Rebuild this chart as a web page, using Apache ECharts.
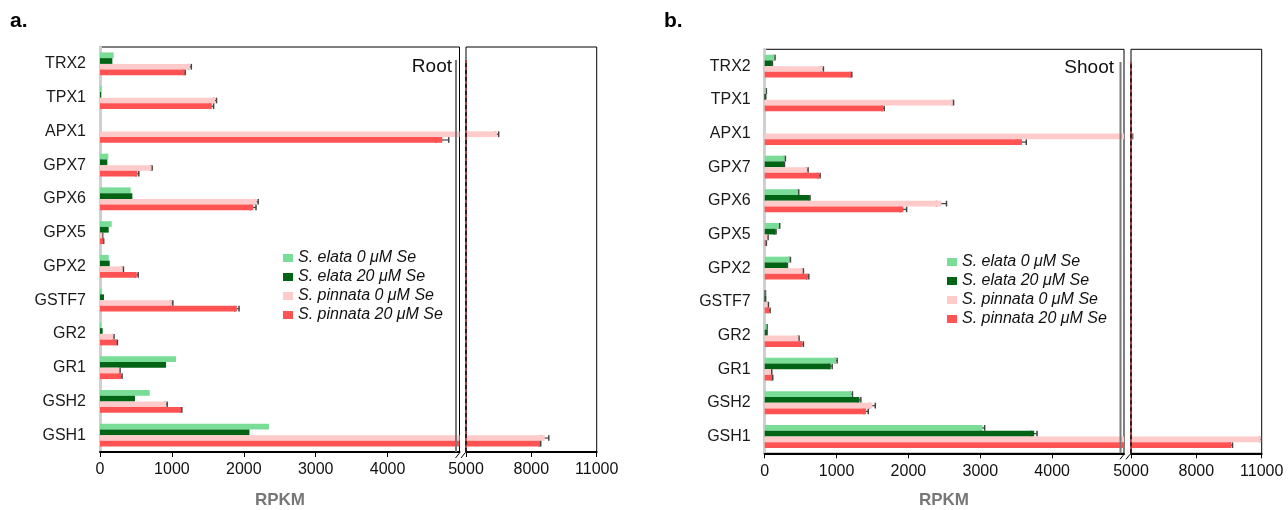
<!DOCTYPE html>
<html>
<head>
<meta charset="utf-8">
<script src="https://cdn.jsdelivr.net/npm/echarts@6/dist/echarts.min.js"></script>
<style>
html,body{margin:0;padding:0;background:#fff;}
#chart{width:1288px;height:510px;}
</style>
</head>
<body>
<div id="chart"></div>
<script>
// ---------- data ----------
const categories = ['TRX2','TPX1','APX1','GPX7','GPX6','GPX5','GPX2','GSTF7','GR2','GR1','GSH2','GSH1'];
const seriesNames = ['S. elata 0 μM Se','S. elata 20 μM Se','S. pinnata 0 μM Se','S. pinnata 20 μM Se'];

// Root (panel a)
const rootElata0     = [190, 20, 0, 116, 427, 163, 121, 24, 18, 1058, 692, 2349];
const rootElata20    = [172, 15, 0, 102, 450, 121, 135, 56, 37, 919, 487, 2079];
const rootPinnata0   = [1250, 1600, 6420, 715, 2180, 32, 316, 998, 185, 269, 919, 8620];
const rootPinnata20  = [1175, 1555, 4760, 520, 2130, 46, 511, 1904, 232, 292, 1128, 8390];
const rootElata0Err    = [0, 0, 0, 0, 0, 0, 0, 0, 0, 0, 0, 0];
const rootElata20Err   = [0, 0, 0, 0, 0, 0, 0, 0, 0, 0, 0, 0];
const rootPinnata0Err  = [20, 20, 80, 10, 20, 5, 10, 15, 10, 10, 15, 180];
const rootPinnata20Err = [10, 25, 90, 20, 40, 5, 20, 30, 10, 15, 10, 40];

// Shoot (panel b)
const shootElata0     = [134, 18, 0, 278, 464, 199, 348, 8, 28, 993, 1206, 3031];
const shootElata20    = [97, 10, 0, 265, 621, 148, 306, 10, 28, 919, 1318, 3750];
const shootPinnata0   = [802, 2618, 5060, 589, 2460, 37, 529, 42, 468, 88, 1499, 10950];
const shootPinnata20  = [1202, 1648, 3580, 756, 1930, 18, 599, 60, 524, 102, 1411, 9600];
const shootElata0Err    = [10, 5, 0, 10, 10, 10, 10, 3, 5, 15, 15, 30];
const shootElata20Err   = [10, 5, 0, 10, 10, 10, 10, 3, 5, 20, 20, 40];
const shootPinnata0Err  = [15, 10, 15, 15, 70, 10, 10, 10, 10, 10, 40, 50];
const shootPinnata20Err = [10, 15, 60, 15, 45, 5, 15, 15, 15, 10, 30, 60];

// axis ticks
const leftTicks = [0, 1000, 2000, 3000, 4000];
const rightTicks = [5000, 8000, 11000];
const breakValue = 5000;
const maxValue = 11000;

// ---------- style ----------
const colors = ['#79dd98', '#006414', '#ffcaca', '#ff5252'];
const FONT = '"Liberation Sans", Arial, sans-serif';
const catGap = 0.32;

const panels = [
  {vals:[rootElata0, rootElata20, rootPinnata0, rootPinnata20],
   errs:[rootElata0Err, rootElata20Err, rootPinnata0Err, rootPinnata20Err]},
  {vals:[shootElata0, shootElata20, shootPinnata0, shootPinnata20],
   errs:[shootElata0Err, shootElata20Err, shootPinnata0Err, shootPinnata20Err]}
];

const grids = [
  {left:100, top:47, width:359.5, height:405},
  {left:466, top:47, width:130.7, height:405},
  {left:764.7, top:49.3, width:359.3, height:404},
  {left:1131, top:49.3, width:130.7, height:404}
];

const xAxes = [], yAxes = [], series = [];
grids.forEach((g, gi) => {
  const isLeft = gi % 2 === 0;
  xAxes.push({
    type:'value', gridIndex:gi,
    min: isLeft ? 0 : breakValue,
    max: isLeft ? breakValue : maxValue,
    interval: 1000,
    splitLine:{show:false},
    axisLine:{show:true, onZero:false, lineStyle:{color:'#000', width:2}},
    axisTick:{show:true, length:5, lineStyle:{color:'#000', width:1},
      customValues: isLeft ? leftTicks : rightTicks},
    axisLabel:{show:true, fontSize:16, color:'#111', fontFamily:FONT, margin:10,
      customValues: isLeft ? leftTicks : rightTicks,
      formatter: v => String(v)}
  });
  yAxes.push({
    type:'category', gridIndex:gi, data:categories, inverse:true,
    axisTick:{show:false},
    axisLine: isLeft
      ? {show:true, lineStyle:{color:'#cfcfcf', width:3}}
      : {show:false},
    axisLabel: isLeft
      ? {show:true, fontSize:16, color:'#1a1a1a', fontFamily:FONT, margin:14}
      : {show:false}
  });
});

grids.forEach((g, gi) => {
  const p = panels[Math.floor(gi / 2)];
  for (let i = 0; i < 4; i++) {
    series.push({
      type:'bar', name:seriesNames[i], xAxisIndex:gi, yAxisIndex:gi,
      data:p.vals[i], barGap:'0%', barCategoryGap:(catGap*100)+'%',
      itemStyle:{color:colors[i]}, clip:true, silent:true
    });
  }
  for (let i = 0; i < 4; i++) {
    const si = i;
    series.push({
      type:'custom', name:'err'+gi+'_'+i, xAxisIndex:gi, yAxisIndex:gi, clip:true, silent:true,
      data: p.vals[i].map((v, k) => [v, k, p.errs[i][k]]),
      encode:{x:0, y:1},
      renderItem: function(params, api) {
        const v = api.value(0), c = api.value(1), e = api.value(2);
        if (!e || !v) return null;
        const band = api.size([0, 1])[1];
        const group = band * (1 - catGap);
        const bw = group / 4;
        const y = api.coord([v, c])[1] - group / 2 + (si + 0.5) * bw;
        const x1 = api.coord([v - e, c])[0];
        const x2 = api.coord([v + e, c])[0];
        const h = bw * 0.5;
        const st = {stroke:'#444', lineWidth:1.5};
        return {type:'group', children:[
          {type:'line', shape:{x1:x1, y1:y, x2:x2, y2:y}, style:{stroke:'#444', lineWidth:1.2}},
          {type:'line', shape:{x1:x1, y1:y-h, x2:x1, y2:y+h}, style:st},
          {type:'line', shape:{x1:x2, y1:y-h, x2:x2, y2:y+h}, style:st}
        ]};
      }
    });
  }
});

function legendFor(left, top) {
  return {
    data: seriesNames, orient:'vertical', left:left, top:top,
    icon:'rect', itemWidth:10, itemHeight:8, itemGap:3, padding:0,
    textStyle:{fontSize:16, fontStyle:'italic', color:'#111', fontFamily:FONT, lineHeight:16},
    selectedMode:false
  };
}

function breakGraphics(xl, xr, yb, yt, ytop) {
  const st = {stroke:'#000', lineWidth:1};
  return [
    {type:'line', silent:true, z:50, shape:{x1:xl-3.5, y1:yb, x2:xl-3.5, y2:yt}, style:{stroke:'#7a7a7a', lineWidth:2}},
    {type:'line', silent:true, z:50, shape:{x1:xr, y1:yb, x2:xr, y2:yt}, style:{stroke:'#b03030', lineWidth:1.5}},
    {type:'line', silent:true, z:51, shape:{x1:xr, y1:yb, x2:xr, y2:yt}, style:{stroke:'#111', lineWidth:1.5, lineDash:[4, 3]}},
    {type:'line', silent:true, z:50, shape:{x1:xl-4, y1:yb+6, x2:xl, y2:yb+1}, style:st},
    {type:'line', silent:true, z:50, shape:{x1:xr-5, y1:yb+6, x2:xr-1, y2:yb+1}, style:st}
  ];
}

const option = {
  animation:false,
  backgroundColor:'#fff',
  textStyle:{fontFamily:FONT},
  grid: grids.map(g => Object.assign({show:true, borderColor:'#000', borderWidth:1, backgroundColor:'transparent', containLabel:false}, g)),
  xAxis: xAxes,
  yAxis: yAxes,
  legend: [legendFor(283, 250), legendFor(947, 254)],
  series: series,
  graphic: [
    {type:'text', left:10, top:11, style:{text:'a.', fontSize:21, fontWeight:'bold', fill:'#000', fontFamily:FONT}},
    {type:'text', left:664, top:11, style:{text:'b.', fontSize:21, fontWeight:'bold', fill:'#000', fontFamily:FONT}},
    {type:'text', right:1288-452, top:57, style:{text:'Root', fontSize:19, fill:'#111', fontFamily:FONT}},
    {type:'text', right:1288-1114, top:58, style:{text:'Shoot', fontSize:19, fill:'#111', fontFamily:FONT}},
    {type:'text', x:280, y:500, style:{text:'RPKM', fontSize:17, fontWeight:'bold', fill:'#777', fontFamily:FONT, textAlign:'center', textVerticalAlign:'middle'}},
    {type:'text', x:944, y:500, style:{text:'RPKM', fontSize:17, fontWeight:'bold', fill:'#777', fontFamily:FONT, textAlign:'center', textVerticalAlign:'middle'}}
  ].concat(breakGraphics(459.5, 466, 452, 60), breakGraphics(1124, 1131, 453.3, 62))
};

const chart = echarts.init(document.getElementById('chart'), null, {renderer:'canvas'});
chart.setOption(option);
</script>
</body>
</html>
